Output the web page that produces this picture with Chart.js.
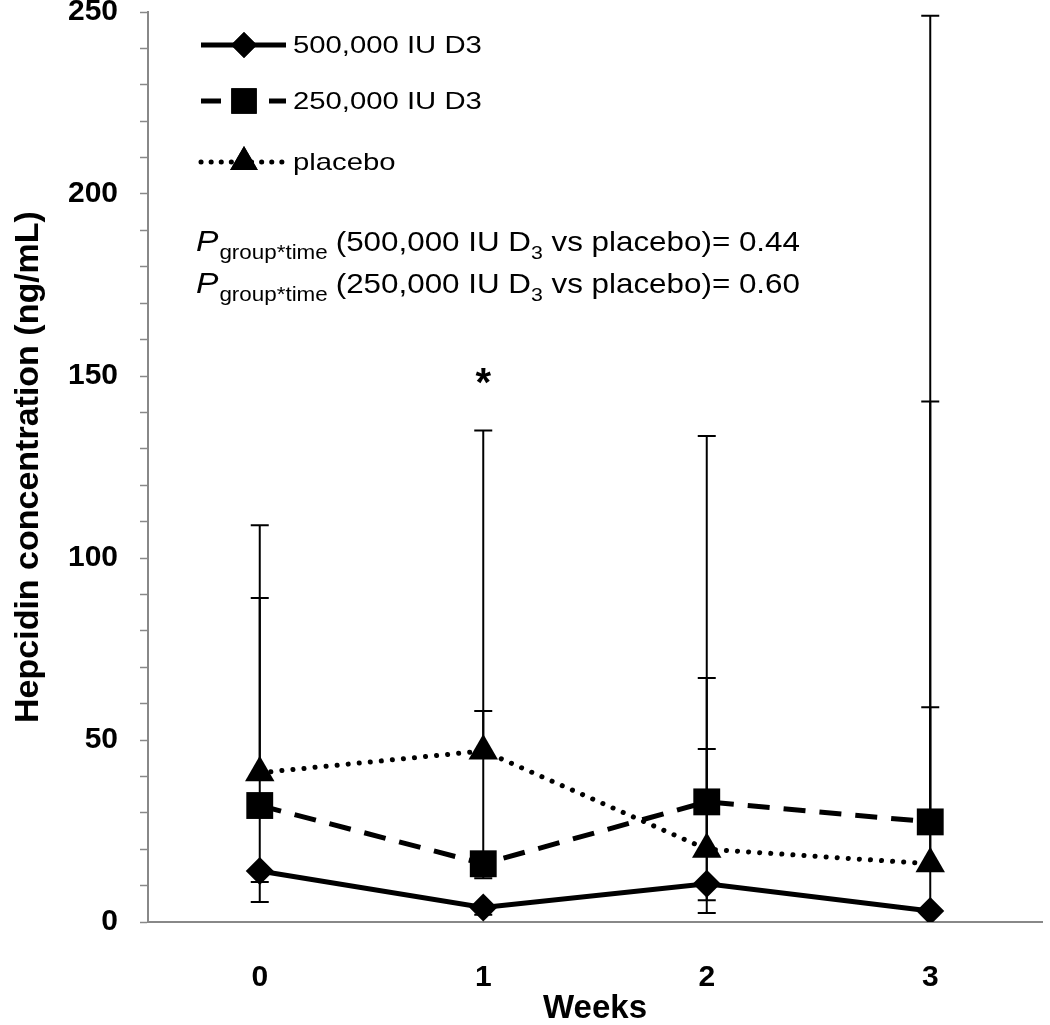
<!DOCTYPE html>
<html>
<head>
<meta charset="utf-8">
<script src="https://cdn.jsdelivr.net/npm/chart.js@4"></script>
<style>
  html, body { margin: 0; padding: 0; background: #fff; overflow: hidden; }
  #wrap { width: 1050px; height: 1025px; }
</style>
</head>
<body>
<div id="wrap"><canvas id="myChart"></canvas></div>
<script>
const weeks = ['0', '1', '2', '3'];
const d500 = [14, 4, 10.5, 3];
const d250 = [32, 16, 33, 27.5];
const dPlacebo = [41, 47, 20, 16];
// error bar ends (absolute values), null = not drawn
const hi500 = [null, null, 47.5, 59];
const lo500 = [5.5, 2, 2.5, null];
const hi250 = [89, 58, 67, 249];
const lo250 = [11, 12, 6, null];
const hiPlacebo = [109, 135, 133.5, 143];
const loPlacebo = [null, null, null, null];
const starWeek = 1, starValue = 147.5;

const FONT = "'Liberation Sans', Arial, sans-serif";

const errorBars = {
    id: 'errorBars',
    beforeDatasetsDraw(chart) {
        const ctx = chart.ctx;
        const x = chart.scales.x, y = chart.scales.y;
        const sets = [[d500, hi500, lo500], [d250, hi250, lo250], [dPlacebo, hiPlacebo, loPlacebo]];
        ctx.save();
        ctx.strokeStyle = '#000';
        ctx.lineWidth = 2;
        sets.forEach(s => {
            for (let i = 0; i < weeks.length; i++) {
                const px = x.getPixelForValue(i);
                [s[1][i], s[2][i]].forEach(end => {
                    if (end === null) return;
                    const p0 = y.getPixelForValue(s[0][i]);
                    const p1 = y.getPixelForValue(end);
                    ctx.beginPath();
                    ctx.moveTo(px, p0);
                    ctx.lineTo(px, p1);
                    ctx.moveTo(px - 9, p1);
                    ctx.lineTo(px + 9, p1);
                    ctx.stroke();
                });
            }
        });
        // significance star
        ctx.fillStyle = '#000';
        ctx.font = 'bold 40px ' + FONT;
        ctx.textAlign = 'center';
        ctx.textBaseline = 'middle';
        ctx.fillText('*', x.getPixelForValue(starWeek), y.getPixelForValue(starValue));
        ctx.restore();
    }
};

// draws stretched text, returns its drawn width
function wideText(ctx, txt, x, y, sx) {
    ctx.save();
    ctx.translate(x, y);
    ctx.scale(sx, 1);
    ctx.fillText(txt, 0, 0);
    ctx.restore();
    return ctx.measureText(txt).width * sx;
}

const legendAndText = {
    id: 'legendAndText',
    afterDraw(chart) {
        const ctx = chart.ctx;
        ctx.save();
        ctx.strokeStyle = '#000';
        ctx.fillStyle = '#000';
        const items = [
            {y: 45, dash: [], cap: 'butt', style: 'rectRot', r: 13, text: '500,000 IU D3'},
            {y: 101, dash: [20, 14], cap: 'butt', style: 'rect', r: 18, text: '250,000 IU D3'},
            {y: 162, dash: [0.1, 10], cap: 'round', style: 'triangle', r: 16, text: 'placebo'}
        ];
        items.forEach(it => {
            ctx.lineWidth = 5;
            ctx.setLineDash(it.dash);
            ctx.lineCap = it.cap;
            ctx.beginPath();
            ctx.moveTo(201, it.y);
            ctx.lineTo(286, it.y);
            ctx.stroke();
            ctx.setLineDash([]);
            Chart.helpers.drawPoint(ctx, {pointStyle: it.style, radius: it.r, borderWidth: 0}, 244, it.y);
            ctx.fill();
            ctx.font = '24px ' + FONT;
            ctx.textBaseline = 'middle';
            ctx.textAlign = 'left';
            wideText(ctx, it.text, 293, it.y + 1, 1.22);
        });

        const lines = [
            {y: 251, a: '(500,000 IU D', b: ' vs placebo)= 0.44'},
            {y: 293, a: '(250,000 IU D', b: ' vs placebo)= 0.60'}
        ];
        const sx = 1.12;
        ctx.textBaseline = 'alphabetic';
        lines.forEach(l => {
            let cx = 196;
            ctx.font = 'italic 30px ' + FONT;
            cx += wideText(ctx, 'P', cx, l.y, sx) + 1;
            ctx.font = '20px ' + FONT;
            cx += wideText(ctx, 'group*time', cx, l.y + 8, sx) + 8;
            ctx.font = '28px ' + FONT;
            cx += wideText(ctx, l.a, cx, l.y, sx);
            ctx.font = '19px ' + FONT;
            cx += wideText(ctx, '3', cx, l.y + 8, sx);
            ctx.font = '28px ' + FONT;
            wideText(ctx, l.b, cx, l.y, sx);
        });
        ctx.restore();
    }
};

const ctx = document.getElementById('myChart').getContext('2d');
const myChart = new Chart(ctx, {
    type: 'line',
    data: {
        labels: weeks,
        datasets: [
            {
                label: '500,000 IU D3',
                data: d500,
                borderColor: '#000',
                backgroundColor: '#000',
                borderWidth: 5,
                pointStyle: 'rectRot',
                pointRadius: 14,
                pointBorderWidth: 0
            },
            {
                label: '250,000 IU D3',
                data: d250,
                borderColor: '#000',
                backgroundColor: '#000',
                borderWidth: 5,
                borderDash: [22, 14],
                pointStyle: 'rect',
                pointRadius: 19,
                pointBorderWidth: 0
            },
            {
                label: 'placebo',
                data: dPlacebo,
                borderColor: '#000',
                backgroundColor: '#000',
                borderWidth: 5,
                borderDash: [0.1, 11],
                borderCapStyle: 'round',
                pointStyle: 'triangle',
                pointRadius: 17,
                pointBorderWidth: 0
            }
        ]
    },
    options: {
        responsive: true,
        maintainAspectRatio: false,
        animation: false,
        layout: {autoPadding: false, padding: {top: 12, right: 8, left: 0, bottom: 0}},
        plugins: {
            legend: {display: false},
            tooltip: {enabled: false}
        },
        scales: {
            x: {
                offset: true,
                afterFit: s => { s.height = 103; s.paddingLeft = 0; s.paddingRight = 0; },
                grid: {drawOnChartArea: false, drawTicks: false},
                border: {color: '#888', width: 2},
                ticks: {
                    color: '#000',
                    padding: 38,
                    font: {family: FONT, size: 30, weight: 'bold'}
                },
                title: {
                    display: true,
                    text: 'Weeks',
                    color: '#000',
                    padding: {top: 0, bottom: 0},
                    font: {family: FONT, size: 33, weight: 'bold', lineHeight: 1.0}
                }
            },
            y: {
                min: 0,
                max: 250,
                afterFit: s => { s.width = 148; s.paddingTop = 0; s.paddingBottom = 0; },
                grid: {drawOnChartArea: false, tickLength: 8, color: '#888', tickWidth: 1.5},
                border: {color: '#888', width: 2},
                ticks: {
                    stepSize: 10,
                    autoSkip: false,
                    color: '#000',
                    padding: 22,
                    font: {family: FONT, size: 30, weight: 'bold'},
                    callback: v => (v % 50 === 0 ? v : '')
                },
                title: {
                    display: true,
                    text: 'Hepcidin concentration (ng/mL)',
                    color: '#000',
                    padding: {top: 8, bottom: 0},
                    font: {family: FONT, size: 34, weight: 'bold'}
                }
            }
        }
    },
    plugins: [errorBars, legendAndText]
});
</script>
</body>
</html>
